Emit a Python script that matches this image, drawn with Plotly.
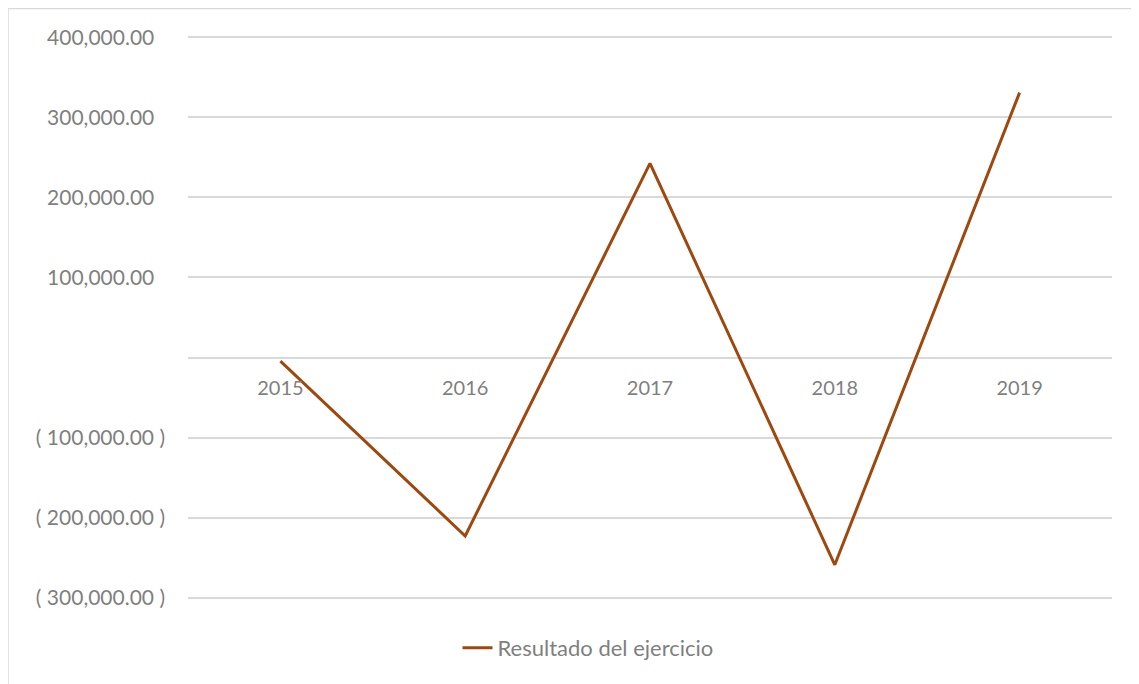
import plotly.graph_objects as go

years = ["2015", "2016", "2017", "2018", "2019"]
resultado = [-4500, -223000, 242500, -259000, 331000]
series_name = "Resultado del ejercicio"

tick_vals = [400000, 300000, 200000, 100000, 0, -100000, -200000, -300000]
tick_text = ["400,000.00\u00a0\u00a0", "300,000.00\u00a0\u00a0", "200,000.00\u00a0\u00a0", "100,000.00\u00a0\u00a0", "",
             "( 100,000.00 )", "( 200,000.00 )", "( 300,000.00 )"]

FONT = "Lato, Carlito, sans-serif"
GREY = "#7f7f7f"

ymin, ymax = -300000, 400000
pad = 3000
px_per = 561 / (ymax - ymin)

# The page body has an 8px margin; the figure is sized/positioned for it.
W, H = 1131, 676
L = 180
PW = 924
T = (37 - 8) - pad * px_per
PH = (ymax - ymin + 2 * pad) * px_per
B = H - T - PH

fig = go.Figure()
fig.add_trace(go.Scatter(
    x=years, y=resultado, mode="lines", name=series_name,
    line=dict(color="#9E480E", width=3),
))

fig.update_layout(
    width=W, height=H,
    margin=dict(l=L, r=W - L - PW, t=T, b=B, autoexpand=False),
    paper_bgcolor="white", plot_bgcolor="white",
    font=dict(family=FONT, color=GREY, size=20),
    showlegend=True,
    legend=dict(orientation="h", xref="container", yref="container",
                x=(588 - 8) / W, y=1 - (648 - 8) / H, xanchor="center", yanchor="middle",
                bgcolor="rgba(0,0,0,0)",
                font=dict(size=22, color=GREY, family=FONT)),
    xaxis=dict(type="category", range=[-0.5, 4.5], showgrid=False,
               showline=False, zeroline=False, ticks="",
               anchor="free", position=(0 - (ymin - pad)) / ((ymax + pad) - (ymin - pad)),
               tickfont=dict(size=20, color=GREY, family=FONT),
               ticklabelstandoff=16),
    yaxis=dict(range=[ymin - pad, ymax + pad], tickvals=tick_vals, ticktext=tick_text,
               showgrid=True, gridcolor="#d9d9d9", gridwidth=1.5,
               zeroline=False, showline=False, ticks="",
               tickfont=dict(size=21, color=GREY, family=FONT),
               ticklabelstandoff=22),
)

# chart frame
fig.add_shape(type="rect", xref="paper", yref="paper",
              x0=-L / PW, x1=(W + 10 - L) / PW,
              y0=-(B + 10) / PH, y1=1 + T / PH,
              line=dict(color="#d9d9d9", width=1.5), layer="below")

fig.write_html("out.html")
